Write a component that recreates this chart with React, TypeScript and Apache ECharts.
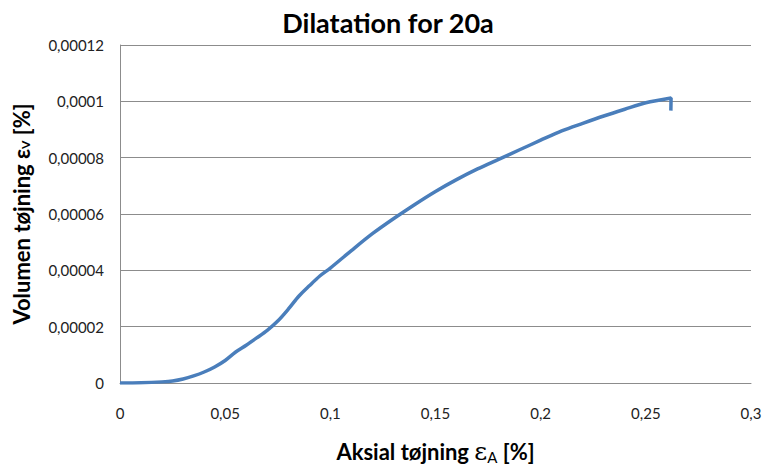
import React, { useEffect, useRef } from "react";
import * as echarts from "echarts";

const titleText = "Dilatation for 20a";
const strainA: number[] = [0, 0.01, 0.02, 0.025, 0.03, 0.035, 0.04, 0.045, 0.05, 0.055, 0.06, 0.065, 0.07, 0.075, 0.08, 0.085, 0.09, 0.095, 0.1, 0.11, 0.12, 0.13, 0.14, 0.15, 0.16, 0.17, 0.18, 0.19, 0.2, 0.21, 0.22, 0.23, 0.24, 0.25, 0.262, 0.2619];
const strainV_e5: number[] = [0, 0.01, 0.04, 0.07, 0.14, 0.25, 0.39, 0.57, 0.8, 1.1, 1.34, 1.6, 1.87, 2.2, 2.62, 3.08, 3.45, 3.8, 4.08, 4.7, 5.3, 5.83, 6.33, 6.8, 7.22, 7.6, 7.94, 8.28, 8.62, 8.95, 9.22, 9.48, 9.72, 9.95, 10.12, 9.67];

const fmt = (v: number) => String(Number(v.toFixed(8))).replace(".", ",");

export default function App() {
  const ref = useRef<HTMLDivElement>(null);
  useEffect(() => {
    const chart = echarts.init(ref.current!, null, { renderer: "svg" });
    const data = strainA.map((x, i) => [x, strainV_e5[i] * 1e-5]);
    const font = "Lato, 'Open Sans', sans-serif";
    chart.setOption({
      animation: false,
      backgroundColor: "#ffffff",
      textStyle: { fontFamily: font },
      graphic: [
        {
          type: "text",
          x: 388,
          y: 22,
          style: {
            text: titleText,
            font: `bold 27px ${font}`,
            fill: "#000",
            textAlign: "center",
            textVerticalAlign: "middle",
          },
        },
      ],
      grid: { left: 120, right: 12, top: 45, bottom: 82, outerBoundsMode: "none", containLabel: false },
      xAxis: {
        type: "value",
        min: 0,
        max: 0.3,
        interval: 0.05,
        name: "{a|Aksial tøjning }{e|ε}{s|A}{a| [%]}",
        nameLocation: "middle",
        nameGap: 56,
        nameTextStyle: {
          rich: {
            a: { fontSize: 22, fontWeight: "bold", color: "#000", fontFamily: font },
            e: { fontSize: 25, color: "#000", fontFamily: "DejaVu Serif" },
            s: { fontSize: 15, color: "#000", fontFamily: font, padding: [10, 0, 0, 0] },
          },
        },
        axisLine: { show: true, lineStyle: { color: "#8c8c8c", width: 1 } },
        axisTick: { show: false },
        splitLine: { show: false },
        axisLabel: { formatter: fmt, fontSize: 15, color: "#222", margin: 22, fontFamily: font },
      },
      yAxis: {
        type: "value",
        min: 0,
        max: 0.00012,
        interval: 0.00002,
        name: "{a|Volumen tøjning ε}{s|V}{a| [%]}",
        nameLocation: "middle",
        nameGap: 88,
        nameTextStyle: {
          rich: {
            a: { fontSize: 22, fontWeight: "bold", color: "#000", fontFamily: font },
            s: { fontSize: 12, fontWeight: "bold", color: "#000", fontFamily: font, padding: [8, 0, 0, 0] },
          },
        },
        axisLine: { show: true, lineStyle: { color: "#8c8c8c", width: 1 } },
        axisTick: { show: false },
        splitLine: { show: true, lineStyle: { color: "#8c8c8c", width: 1 } },
        axisLabel: { formatter: fmt, fontSize: 15, color: "#222", margin: 16, fontFamily: font },
      },
      series: [
        {
          type: "line",
          data,
          showSymbol: false,
          smooth: 0.3,
          lineStyle: { color: "#4a7ebb", width: 3.5 },
        },
      ],
    });
    return () => chart.dispose();
  }, []);
  return <div ref={ref} style={{ position: "fixed", left: 0, top: 0, width: 763, height: 465 }} />;
}
